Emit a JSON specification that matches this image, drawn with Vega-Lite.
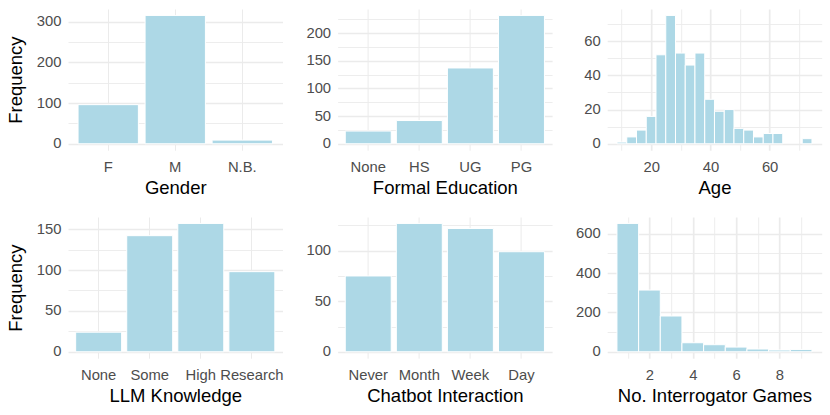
{
  "$schema": "https://vega.github.io/schema/vega-lite/v6.json",
  "description": "Participant demographics, six bar panels",
  "padding": {"left": 6, "top": 9, "right": 5, "bottom": 5},
  "background": "white",
  "config": {
    "view": {"stroke": null},
    "font": "Liberation Sans",
    "axis": {
      "domain": false,
      "ticks": false,
      "tickSize": 0,
      "grid": true,
      "gridColor": "#EBEBEB",
      "labelColor": "#4D4D4D",
      "labelFont": "Liberation Sans",
      "labelFontSize": 14.8,
      "labelOverlap": false,
      "labelFlush": false,
      "labelBound": false,
      "titleFont": "Liberation Sans",
      "titleFontSize": 18.5,
      "titleFontWeight": "normal",
      "titleColor": "#000000"
    },
    "axisX": {"labelPadding": 9, "labelAngle": 0, "titleBaseline": "alphabetic", "titleY": 43},
    "axisY": {"labelPadding": 7, "titleAngle": 270, "titleBaseline": "alphabetic", "titleX": -46.6},
    "bar": {"color": "#ADD8E6", "stroke": "white", "strokeWidth": 1}
  },
  "datasets": {
    "gender": [
      {"cat": "F", "n": 96},
      {"cat": "M", "n": 315},
      {"cat": "N.B.", "n": 9}
    ],
    "education": [
      {"cat": "None", "n": 23},
      {"cat": "HS", "n": 42},
      {"cat": "UG", "n": 137},
      {"cat": "PG", "n": 232}
    ],
    "age": [
      {"x0": 8.41, "x1": 11.71, "n": 1},
      {"x0": 11.71, "x1": 15.0, "n": 4},
      {"x0": 15.0, "x1": 18.3, "n": 8},
      {"x0": 18.3, "x1": 21.59, "n": 16},
      {"x0": 21.59, "x1": 24.89, "n": 52},
      {"x0": 24.89, "x1": 28.18, "n": 75},
      {"x0": 28.18, "x1": 31.48, "n": 53},
      {"x0": 31.48, "x1": 34.77, "n": 46},
      {"x0": 34.77, "x1": 38.07, "n": 53},
      {"x0": 38.07, "x1": 41.36, "n": 26},
      {"x0": 41.36, "x1": 44.66, "n": 19},
      {"x0": 44.66, "x1": 47.95, "n": 20},
      {"x0": 47.95, "x1": 51.25, "n": 9},
      {"x0": 51.25, "x1": 54.54, "n": 8},
      {"x0": 54.54, "x1": 57.84, "n": 4},
      {"x0": 57.84, "x1": 61.13, "n": 6},
      {"x0": 61.13, "x1": 64.43, "n": 6},
      {"x0": 71.02, "x1": 74.31, "n": 3}
    ],
    "llm": [
      {"cat": "None", "n": 24},
      {"cat": "Some", "n": 142},
      {"cat": "High", "n": 157},
      {"cat": "Research", "n": 98}
    ],
    "chatbot": [
      {"cat": "Never", "n": 75},
      {"cat": "Month", "n": 127},
      {"cat": "Week", "n": 122},
      {"cat": "Day", "n": 99}
    ],
    "games": [
      {"x0": 0.5, "x1": 1.5, "n": 653},
      {"x0": 1.5, "x1": 2.5, "n": 314},
      {"x0": 2.5, "x1": 3.5, "n": 182},
      {"x0": 3.5, "x1": 4.5, "n": 46},
      {"x0": 4.5, "x1": 5.5, "n": 36},
      {"x0": 5.5, "x1": 6.5, "n": 24},
      {"x0": 6.5, "x1": 7.5, "n": 14},
      {"x0": 7.5, "x1": 8.5, "n": 9},
      {"x0": 8.5, "x1": 9.5, "n": 12}
    ]
  },
  "columns": 3,
  "bounds": "flush",
  "spacing": {"row": 66, "column": 54.6},
  "concat": [
    {
      "data": {"name": "gender"},
      "width": 214.5,
      "height": 141.2,
      "mark": "bar",
      "encoding": {
        "x": {"field": "cat", "type": "nominal", "sort": null,
              "scale": {"paddingInner": 0.1, "paddingOuter": 0.15},
              "axis": {"title": "Gender", "bandPosition": 0.5}},
        "y": {"field": "n", "type": "quantitative",
              "scale": {"domain": [-15.75, 330.75], "nice": false, "zero": false},
              "axis": {"title": "Frequency", "values": [0, 50, 100, 150, 200, 250, 300],
                       "labelExpr": "datum.value % 100 === 0 ? datum.label : ''",
                       "gridWidth": {"condition": {"test": "datum.value % 100 !== 0", "value": 0.9}, "value": 1.7}}},
        "y2": {"datum": 0}
      }
    },
    {
      "data": {"name": "education"},
      "width": 214.5,
      "height": 141.2,
      "mark": "bar",
      "encoding": {
        "x": {"field": "cat", "type": "nominal", "sort": null,
              "scale": {"paddingInner": 0.1, "paddingOuter": 0.15},
              "axis": {"title": "Formal Education", "bandPosition": 0.5}},
        "y": {"field": "n", "type": "quantitative",
              "scale": {"domain": [-11.6, 243.6], "nice": false, "zero": false},
              "axis": {"title": null, "values": [0, 25, 50, 75, 100, 125, 150, 175, 200, 225],
                       "labelExpr": "datum.value % 50 === 0 ? datum.label : ''",
                       "gridWidth": {"condition": {"test": "datum.value % 50 !== 0", "value": 0.9}, "value": 1.7}}},
        "y2": {"datum": 0}
      }
    },
    {
      "data": {"name": "age"},
      "width": 214.5,
      "height": 141.2,
      "mark": "bar",
      "encoding": {
        "x": {"field": "x0", "type": "quantitative",
              "scale": {"domain": [5.1, 77.6], "nice": false, "zero": false},
              "axis": {"title": "Age", "values": [10, 20, 30, 40, 50, 60, 70],
                       "labelExpr": "datum.value % 20 === 0 ? datum.label : ''",
                       "gridWidth": {"condition": {"test": "datum.value % 20 !== 0", "value": 0.9}, "value": 1.7}}},
        "x2": {"field": "x1"},
        "y": {"field": "n", "type": "quantitative",
              "scale": {"domain": [-3.75, 78.75], "nice": false, "zero": false},
              "axis": {"title": null, "values": [0, 10, 20, 30, 40, 50, 60, 70],
                       "labelExpr": "datum.value % 20 === 0 ? datum.label : ''",
                       "gridWidth": {"condition": {"test": "datum.value % 20 !== 0", "value": 0.9}, "value": 1.7}}},
        "y2": {"datum": 0}
      }
    },
    {
      "data": {"name": "llm"},
      "width": 214.5,
      "height": 141.2,
      "mark": "bar",
      "encoding": {
        "x": {"field": "cat", "type": "nominal", "sort": null,
              "scale": {"paddingInner": 0.1, "paddingOuter": 0.15},
              "axis": {"title": "LLM Knowledge", "bandPosition": 0.5}},
        "y": {"field": "n", "type": "quantitative",
              "scale": {"domain": [-7.85, 164.85], "nice": false, "zero": false},
              "axis": {"title": "Frequency", "values": [0, 25, 50, 75, 100, 125, 150],
                       "labelExpr": "datum.value % 50 === 0 ? datum.label : ''",
                       "gridWidth": {"condition": {"test": "datum.value % 50 !== 0", "value": 0.9}, "value": 1.7}}},
        "y2": {"datum": 0}
      }
    },
    {
      "data": {"name": "chatbot"},
      "width": 214.5,
      "height": 141.2,
      "mark": "bar",
      "encoding": {
        "x": {"field": "cat", "type": "nominal", "sort": null,
              "scale": {"paddingInner": 0.1, "paddingOuter": 0.15},
              "axis": {"title": "Chatbot Interaction", "bandPosition": 0.5}},
        "y": {"field": "n", "type": "quantitative",
              "scale": {"domain": [-6.35, 133.35], "nice": false, "zero": false},
              "axis": {"title": null, "values": [0, 25, 50, 75, 100, 125],
                       "labelExpr": "datum.value % 50 === 0 ? datum.label : ''",
                       "gridWidth": {"condition": {"test": "datum.value % 50 !== 0", "value": 0.9}, "value": 1.7}}},
        "y2": {"datum": 0}
      }
    },
    {
      "data": {"name": "games"},
      "width": 214.5,
      "height": 141.2,
      "mark": "bar",
      "encoding": {
        "x": {"field": "x0", "type": "quantitative",
              "scale": {"domain": [0.05, 9.95], "nice": false, "zero": false},
              "axis": {"title": "No. Interrogator Games", "values": [1, 2, 3, 4, 5, 6, 7, 8, 9],
                       "labelExpr": "datum.value % 2 === 0 ? datum.label : ''",
                       "gridWidth": {"condition": {"test": "datum.value % 2 !== 0", "value": 0.9}, "value": 1.7}}},
        "x2": {"field": "x1"},
        "y": {"field": "n", "type": "quantitative",
              "scale": {"domain": [-32.65, 685.65], "nice": false, "zero": false},
              "axis": {"title": null, "values": [0, 100, 200, 300, 400, 500, 600],
                       "labelExpr": "datum.value % 200 === 0 ? datum.label : ''",
                       "gridWidth": {"condition": {"test": "datum.value % 200 !== 0", "value": 0.9}, "value": 1.7}}},
        "y2": {"datum": 0}
      }
    }
  ]
}
